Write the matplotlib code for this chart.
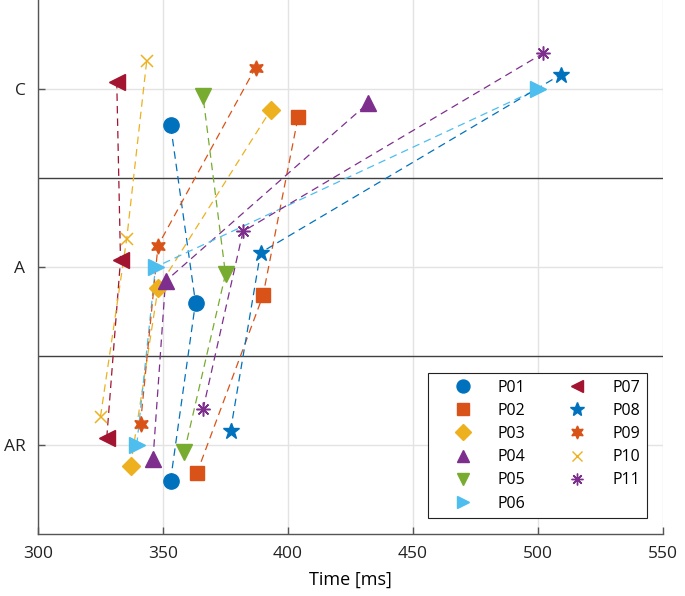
import matplotlib.pyplot as plt
from matplotlib.lines import Line2D
import numpy as np

plt.rcParams['font.family'] = ['Open Sans', 'DejaVu Sans']

# response times per participant (ms) for each condition
participants = ["P01", "P02", "P03", "P04", "P05", "P06", "P07", "P08", "P09", "P10", "P11"]
conditions = ["AR", "A", "C"]
t_ar = [353, 363.5, 337, 346, 358.5, 339.5, 327.5, 377, 341, 325, 366]
t_a = [363, 390, 348, 351, 375, 347, 333, 389, 348, 335.5, 382]
t_c = [353, 404, 393, 432, 366, 500, 331.5, 509, 387, 343.5, 502]

colors = ["#0072BD", "#D95319", "#EDB120", "#7E2F8E", "#77AC30", "#4DBEEE",
          "#A2142F", "#0072BD", "#D95319", "#EDB120", "#7E2F8E"]
markers = ["o", "s", "D", "^", "v", ">", "<", "*", (6, 1, 0), "x", (8, 2, 0)]
msizes = [11, 9.5, 9, 11, 11, 11, 11, 12, 11, 9, 10]

fig = plt.figure(figsize=(6.85, 5.96), dpi=100)
ax = fig.add_axes([38 / 685, 62 / 596, 625 / 685, 534 / 596])

offsets = np.linspace(-0.2, 0.2, len(participants))
ypos = np.arange(1, len(conditions) + 1)

handles = []
for i, p in enumerate(participants):
    xs = [t_ar[i], t_a[i], t_c[i]]
    ys = ypos + offsets[i]
    ax.plot(xs, ys, linestyle=(0, (6, 4)), color=colors[i], lw=0.9, zorder=2)
    filled = markers[i] not in ("x", (8, 2, 0))
    ax.plot(xs, ys, linestyle="none", marker=markers[i], ms=msizes[i],
            color=colors[i], mec=colors[i], mew=1.0 if filled else 1.1, zorder=3)
    handles.append(Line2D([], [], linestyle="none", marker=markers[i],
                          ms=msizes[i] * 0.85, color=colors[i], mew=1.0, label=p))

ax.axhline(1.5, color="#404040", lw=1.0, zorder=1)
ax.axhline(2.5, color="#404040", lw=1.0, zorder=1)

ax.set_xlim(300, 550)
ax.set_ylim(0.5, 3.5)
ax.set_xticks([300, 350, 400, 450, 500, 550])
ax.set_yticks(ypos)
ax.set_yticklabels(conditions)
ax.grid(True, color="#e3e3e3", lw=1.0, zorder=0)
ax.set_axisbelow(True)
ax.set_xlabel("Time [ms]", fontsize=13, labelpad=6)

for s in ["top", "right"]:
    ax.spines[s].set_visible(False)
for s in ["left", "bottom"]:
    ax.spines[s].set_color("#555555")
    ax.spines[s].set_linewidth(1.0)
ax.tick_params(direction="in", length=5, width=1, colors="#555555",
               labelcolor="#222222", labelsize=12.5)
ax.tick_params(axis="x", pad=9)
ax.tick_params(axis="y", pad=9)

leg = ax.legend(handles=handles, ncol=2, loc="lower right",
                bbox_to_anchor=(0.974, 0.03), fontsize=11.5, frameon=True,
                fancybox=False, edgecolor="#222222", framealpha=1,
                handletextpad=0.45, columnspacing=1.5, labelspacing=0.45,
                borderpad=0.4, handlelength=3.5, borderaxespad=0)
leg.get_frame().set_linewidth(0.8)

fig.savefig("out.png", dpi=100)
